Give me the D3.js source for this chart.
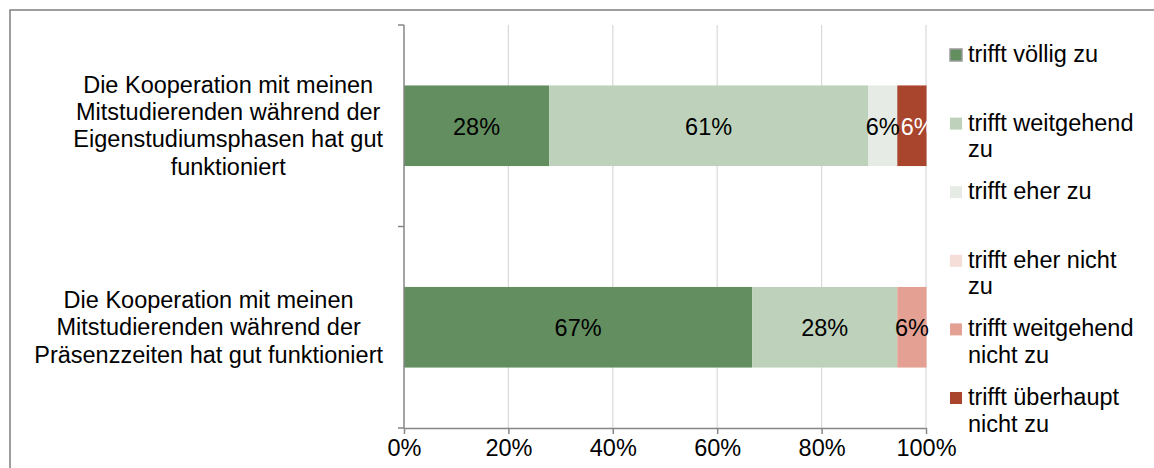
<!DOCTYPE html>
<html lang="de">
<head>
<meta charset="utf-8">
<script src="https://cdn.jsdelivr.net/npm/d3@7"></script>
<style>
  html, body { margin: 0; padding: 0; background: #fff; }
  svg { display: block; font-family: "Liberation Sans", Arial, sans-serif; }
</style>
</head>
<body>
<svg id="chart" width="1154" height="468"></svg>
<script>
// Aussagen (y-Kategorien), bereits in Zeilen umbrochen
const categoryLines = [
  ["Die Kooperation mit meinen", "Mitstudierenden während der", "Eigenstudiumsphasen hat gut", "funktioniert"],
  ["Die Kooperation mit meinen", "Mitstudierenden während der", "Präsenzzeiten hat gut funktioniert"]
];
const categories = ["Eigenstudiumsphasen", "Präsenzzeiten"];

// Antwortstufen
const seriesNames = [
  "trifft völlig zu",
  "trifft weitgehend zu",
  "trifft eher zu",
  "trifft eher nicht zu",
  "trifft weitgehend nicht zu",
  "trifft überhaupt nicht zu"
];

// Anteile je Aussage in Prozent (n = 18)
const eigenstudium = [27.8, 61.1, 5.6, 0, 0, 5.6];
const praesenz     = [66.7, 27.8, 0, 0, 5.6, 0];

const xTicks = [0, 0.2, 0.4, 0.6, 0.8, 1];

const colors = ["#638e60", "#bed2bb", "#e6ebe5", "#f5ddd8", "#e4a193", "#a9442d"];
const labelColors = ["#000", "#000", "#000", "#000", "#000", "#fff"];

const FONT = 23.5;
const svg = d3.select("#chart");

// Rahmen des Diagrammbereichs
svg.append("rect")
  .attr("x", 10).attr("y", 10)
  .attr("width", 1170).attr("height", 480)
  .attr("fill", "none").attr("stroke", "#7f7f7f").attr("stroke-width", 1.5);

const plot = { left: 404, right: 926, top: 25, bottom: 428 };

const x = d3.scaleLinear().domain([0, 1]).range([plot.left, plot.right]);
const y = d3.scaleBand().domain(categories).range([plot.top, plot.bottom]).padding(0);
const barH = y.bandwidth() * 0.4;

// vertikale Gitterlinien
svg.append("g").selectAll("line")
  .data(xTicks.filter(t => t > 0))
  .join("line")
  .attr("x1", d => x(d)).attr("x2", d => x(d))
  .attr("y1", plot.top).attr("y2", plot.bottom)
  .attr("stroke", "#d9d9d9").attr("stroke-width", 1.2);

// gestapelte Daten
const rows = [eigenstudium, praesenz];
const stacked = rows.map((vals, i) => {
  let acc = 0;
  return vals.map((v, j) => {
    const seg = { cat: categories[i], idx: j, value: v / 100, x0: acc };
    acc += v / 100;
    seg.x1 = acc;
    return seg;
  });
});
const segments = stacked.flat().filter(d => d.value > 0);

const bars = svg.append("g");
bars.selectAll("rect")
  .data(segments)
  .join("rect")
  .attr("x", d => x(d.x0))
  .attr("width", d => x(d.x1) - x(d.x0))
  .attr("y", d => y(d.cat) + (y.bandwidth() - barH) / 2)
  .attr("height", barH)
  .attr("fill", d => colors[d.idx]);

// Wertbeschriftungen (zentriert; bei Überlappung nach rechts verschoben)
const labels = bars.selectAll("text")
  .data(segments)
  .join("text")
  .attr("x", d => (x(d.x0) + x(d.x1)) / 2)
  .attr("y", d => y(d.cat) + y.bandwidth() / 2 + 9)
  .attr("text-anchor", "middle")
  .attr("font-size", FONT)
  .attr("fill", d => labelColors[d.idx])
  .text(d => d3.format(".0%")(d.value));

categories.forEach(c => {
  let prevRight = -Infinity;
  labels.filter(d => d.cat === c).each(function (d) {
    const w = this.getComputedTextLength();
    let cx = (x(d.x0) + x(d.x1)) / 2;
    if (cx - w / 2 < prevRight + 1) cx = prevRight + 1 + w / 2;
    d3.select(this).attr("x", cx);
    prevRight = cx + w / 2;
  });
});

// x-Achse
const xAxis = svg.append("g")
  .attr("transform", `translate(0,${plot.bottom})`)
  .call(d3.axisBottom(x).tickValues(xTicks).tickFormat(d3.format(".0%"))
    .tickSizeInner(6).tickSizeOuter(0).tickPadding(5));
xAxis.select(".domain").attr("stroke", "#868686").attr("stroke-width", 1.5);
xAxis.selectAll(".tick line").attr("stroke", "#868686").attr("stroke-width", 1.5);
xAxis.selectAll(".tick text")
  .attr("font-size", FONT).attr("font-family", "Liberation Sans, Arial, sans-serif")
  .attr("fill", "#000");

// y-Achse mit Teilstrichen an den Kategoriegrenzen
const yEdges = categories.map(c => y(c)).concat([plot.bottom]);
const yAxis = svg.append("g");
yAxis.append("line")
  .attr("x1", plot.left).attr("x2", plot.left)
  .attr("y1", plot.top).attr("y2", plot.bottom)
  .attr("stroke", "#868686").attr("stroke-width", 1.5);
yAxis.selectAll("line.tick")
  .data(yEdges)
  .join("line")
  .attr("class", "tick")
  .attr("x1", plot.left - 6).attr("x2", plot.left)
  .attr("y1", d => d).attr("y2", d => d)
  .attr("stroke", "#868686").attr("stroke-width", 1.5);

// Kategoriebeschriftungen: Block rechtsbündig, Zeilen zentriert
const lineH = 27.3;
const labelRight = 383;
categories.forEach((c, i) => {
  const lines = categoryLines[i];
  const g = svg.append("g");
  const texts = g.selectAll("text")
    .data(lines)
    .join("text")
    .attr("font-size", FONT)
    .attr("text-anchor", "middle")
    .attr("fill", "#000")
    .text(d => d);
  const maxW = d3.max(texts.nodes(), n => n.getComputedTextLength());
  const cx = labelRight - maxW / 2;
  const cy = y(c) + y.bandwidth() / 2;
  const firstBase = cy - (lines.length - 1) * lineH / 2 + 8;
  texts.attr("x", cx).attr("y", (d, k) => firstBase + k * lineH);
});

// Legende
const legendX = 950, legendTextX = 968, legendTop = 62, legendStep = 68.6, wrapW = 168;
seriesNames.forEach((name, i) => {
  const base = legendTop + i * legendStep;
  const g = svg.append("g");
  g.append("rect")
    .attr("x", legendX).attr("y", base - 13)
    .attr("width", 12).attr("height", 12)
    .attr("fill", colors[i])
    .attr("stroke", i === 0 ? "#9a9a9a" : "none")
    .attr("stroke-width", i === 0 ? 1.5 : 0);
  const t = g.append("text")
    .attr("font-size", FONT).attr("fill", "#000");
  // Zeilenumbruch nach verfügbarer Breite
  const words = name.split(" ");
  let line = [];
  let tspan = t.append("tspan").attr("x", legendTextX).attr("y", base);
  let lineNo = 0;
  words.forEach(w => {
    line.push(w);
    tspan.text(line.join(" "));
    if (tspan.node().getComputedTextLength() > wrapW && line.length > 1) {
      line.pop();
      tspan.text(line.join(" "));
      line = [w];
      lineNo += 1;
      tspan = t.append("tspan").attr("x", legendTextX).attr("y", base + lineNo * 26.5).text(w);
    }
  });
});
</script>
</body>
</html>
